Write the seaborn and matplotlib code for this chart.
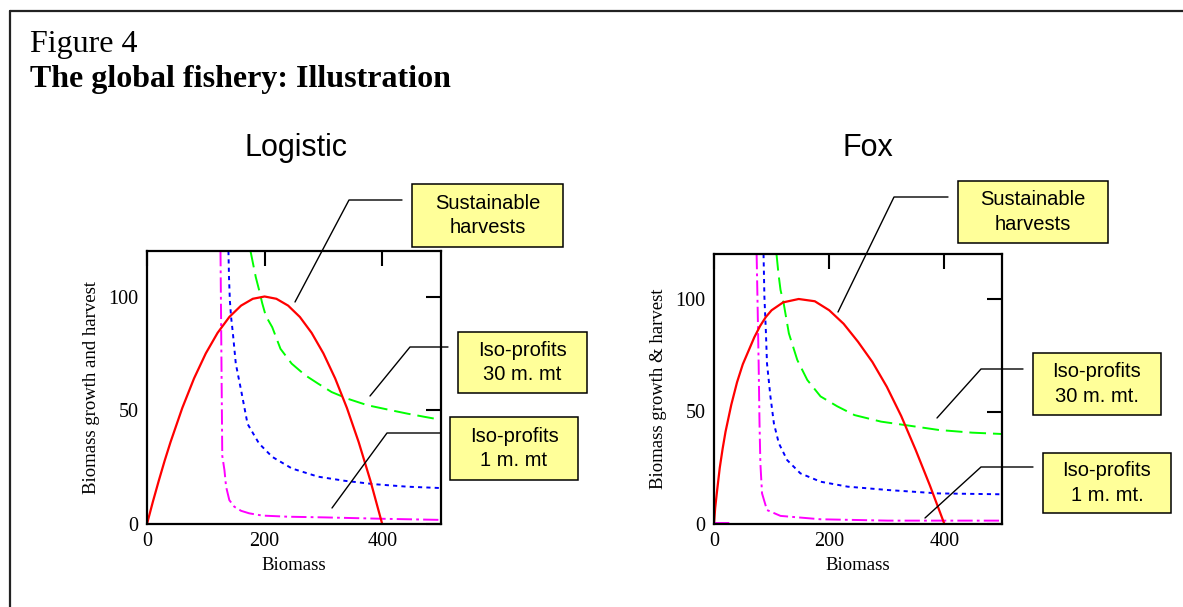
import matplotlib
matplotlib.use("Agg")
import matplotlib.pyplot as plt
import seaborn as sns
from matplotlib.lines import Line2D
from matplotlib.patches import Rectangle

# --- data ---
# Logistic panel
log_x = [0, 10, 20, 30, 40, 60, 80, 100, 120, 140, 160, 180, 200, 220, 240, 260, 280, 300, 320, 340, 360, 380, 400]
log_growth = [0, 9.8, 19, 27.8, 36, 51, 64, 75, 84, 91, 96, 99, 100, 99, 96, 91, 84, 75, 64, 51, 36, 19, 0]

log_iso30_x = [176, 185, 190.5, 196, 202, 213, 227, 246, 269, 291, 314, 342, 375, 415, 443, 470, 500]
log_iso30_y = [120, 108.5, 103, 97, 91.5, 86.5, 77, 70.5, 65.4, 61.7, 58, 55, 52.2, 50, 48.5, 47.2, 45.8]

log_iso10_x = [138.5, 139.5, 141, 143, 146, 151, 160, 171, 190.5, 213, 246.5, 291, 336, 386.5, 442.6, 500]
log_iso10_y = [120, 108, 98, 91, 84, 70.5, 58.8, 44, 35.4, 29.5, 24.4, 20.8, 19, 17.5, 16.4, 15.8]

log_iso1_x = [125, 126, 127, 128, 131.7, 134.5, 140, 148.5, 160, 173.7, 196, 240, 302.5, 400, 500]
log_iso1_y = [120, 90, 60, 30, 23.7, 16.4, 10.5, 7.6, 5.8, 4.7, 3.7, 3.2, 2.9, 2.3, 1.8]

# Fox panel
fox_x = [0, 2, 5, 10, 15, 20, 30, 40, 50, 60, 70, 80, 90, 100, 120, 147, 175, 200, 225, 250, 275, 300, 325, 350, 375, 400]
fox_growth = [0, 7, 14, 25, 33.5, 41, 53, 63, 71, 77, 83, 88, 92, 95, 98.5, 100, 99, 95, 89, 81, 72, 61, 48, 33, 17, 0]

fox_iso30_x = [108.5, 112, 115.5, 121, 130, 144.6, 162, 185, 214, 244, 290, 331, 390, 448, 500]
fox_iso30_y = [120, 111, 104, 98, 84.7, 72.9, 64, 56.7, 52.3, 48.4, 45.5, 44, 41.8, 40.6, 40]

fox_iso10_x = [86, 87.5, 90, 92, 98, 104, 112.5, 127, 150, 185, 232, 302, 389.5, 500]
fox_iso10_y = [120, 101, 86, 71.4, 56.6, 44.7, 35.9, 28.4, 22.5, 18.8, 16.6, 15.1, 13.6, 13.2]

fox_iso1_x = [74, 75.5, 77.5, 79, 80.5, 83.4, 92, 115.5, 185, 302, 500]
fox_iso1_y = [120, 100, 71.4, 45, 27, 13.6, 6.2, 3.6, 2.1, 1.5, 1.5]
fox_iso1_low_x = [0, 33]
fox_iso1_low_y = [0.6, 0.6]

x_ticks = [0, 200, 400]
y_ticks = [0, 50, 100]

# --- style ---
sns.set_style("white")
plt.rcParams['font.family'] = ['Liberation Serif', 'DejaVu Serif']
plt.rcParams['lines.scale_dashes'] = False
plt.rcParams['text.color'] = 'black'
plt.rcParams['axes.labelcolor'] = 'black'
plt.rcParams['xtick.color'] = 'black'
plt.rcParams['ytick.color'] = 'black'

W, H = 1183, 607
fig = plt.figure(figsize=(W / 100, H / 100), dpi=100)


def px(x, y):
    return x / W, 1 - y / H


GREEN = (0, (12, 5))
BLUE = (0, (3, 3))
MAGENTA = (0, (11, 3, 2, 3))


def draw_panel(rect, growth, iso30, iso10, iso1, ylabel, title, title_x):
    ax = fig.add_axes(rect)
    sns.lineplot(x=iso30[0], y=iso30[1], ax=ax, color='#00ff00', lw=1.4,
                 linestyle=GREEN, sort=False, estimator=None)
    sns.lineplot(x=iso10[0], y=iso10[1], ax=ax, color='#0000ff', lw=1.4,
                 linestyle=BLUE, sort=False, estimator=None)
    sns.lineplot(x=iso1[0], y=iso1[1], ax=ax, color='#ff00ff', lw=1.4,
                 linestyle=MAGENTA, sort=False, estimator=None)
    sns.lineplot(x=growth[0], y=growth[1], ax=ax, color='#ff0000', lw=1.6,
                 sort=False, estimator=None)
    ax.set_xlim(0, 500)
    ax.set_ylim(0, 120)
    ax.set_xticks(x_ticks)
    ax.set_yticks(y_ticks)
    ax.tick_params(direction='in', length=11, width=1.5, top=True, right=True,
                   labelsize=14.5, colors='black', pad=6)
    for s in ax.spines.values():
        s.set_linewidth(1.6)
        s.set_color('black')
    ax.set_xlabel('Biomass', fontsize=13.5, labelpad=4)
    ax.set_ylabel(ylabel, fontsize=13.5, labelpad=6)
    fig.text(*px(title_x, 148), title, fontsize=22, family='Liberation Sans',
             ha='center', va='center')
    return ax


ax1 = draw_panel([147 / W, 83 / H, 294 / W, 273 / H],
                 (log_x, log_growth), (log_iso30_x, log_iso30_y),
                 (log_iso10_x, log_iso10_y), (log_iso1_x, log_iso1_y),
                 'Biomass growth and harvest', 'Logistic', 296)
ax2 = draw_panel([714 / W, 83 / H, 288 / W, 270 / H],
                 (fox_x, fox_growth), (fox_iso30_x, fox_iso30_y),
                 (fox_iso10_x, fox_iso10_y), (fox_iso1_x, fox_iso1_y),
                 'Biomass growth & harvest', 'Fox', 868)
sns.lineplot(x=fox_iso1_low_x, y=fox_iso1_low_y, ax=ax2, color='#ff00ff', lw=1.4,
             linestyle=MAGENTA, sort=False, estimator=None)

# frame of the figure
fig.add_artist(Line2D([px(10, 0)[0], 1], [px(0, 11)[1]] * 2, color='#222222', lw=1.6))
fig.add_artist(Line2D([px(10, 0)[0]] * 2, [px(0, 11)[1], 0], color='#222222', lw=1.6))

fig.text(*px(30, 52), 'Figure 4', fontsize=23, va='baseline', ha='left')
fig.text(*px(30, 87), 'The global fishery: Illustration', fontsize=23,
         weight='bold', va='baseline', ha='left')

# callout boxes and leader lines
boxes = [
    ((412, 184, 563, 247), 'Sustainable\nharvests', [(402, 200), (349, 200), (295, 302)]),
    ((458, 332, 587, 393), 'Iso-profits\n30 m. mt', [(448, 347), (410, 347), (370, 396)]),
    ((450, 417, 578, 480), 'Iso-profits\n1 m. mt', [(440, 433), (387, 433), (332, 508)]),
    ((958, 181, 1108, 243), 'Sustainable\nharvests', [(948, 197), (894, 197), (838, 312)]),
    ((1033, 353, 1161, 415), 'Iso-profits\n30 m. mt.', [(1023, 369), (981, 369), (937, 418)]),
    ((1043, 453, 1171, 513), 'Iso-profits\n1 m. mt.', [(1033, 467), (981, 467), (925, 518)]),
]
for (x0, y0, x1, y1), label, leader in boxes:
    fx0, fy1 = px(x0, y1)
    fig.add_artist(Rectangle((fx0, fy1), (x1 - x0) / W, (y1 - y0) / H,
                             facecolor='#ffff99', edgecolor='black', lw=1.1))
    fig.text(*px((x0 + x1) / 2, (y0 + y1) / 2), label, fontsize=14.5,
             family='Liberation Sans', ha='center', va='center', linespacing=1.35)
    xs = [px(p[0], p[1])[0] for p in leader]
    ys = [px(p[0], p[1])[1] for p in leader]
    fig.add_artist(Line2D(xs, ys, color='black', lw=1.0))

fig.savefig('out.png', dpi=100)
